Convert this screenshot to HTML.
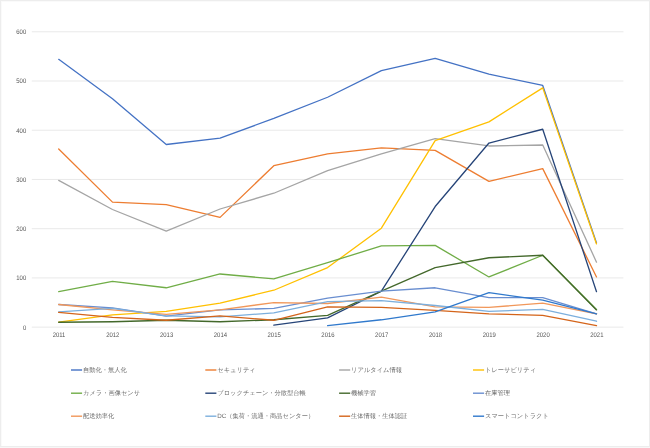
<!DOCTYPE html><html><head><meta charset="utf-8"><style>html,body{margin:0;padding:0;background:#fff;width:650px;height:448px;overflow:hidden}svg{display:block;will-change:transform}text{text-rendering:geometricPrecision}</style></head><body>
<svg width="650" height="448" viewBox="0 0 650 448">
<rect x="0" y="0" width="650" height="448" fill="#fff"/>
<rect x="0" y="0" width="650" height="1" fill="#EDEDED"/><rect x="0" y="0" width="1" height="447" fill="#EDEDED"/><rect x="649" y="0" width="1" height="447" fill="#EDEDED"/><rect x="0" y="446" width="650" height="1" fill="#EDEDED"/><rect x="0" y="447" width="650" height="1" fill="#F7F7F7"/><rect x="1" y="1" width="648" height="1" fill="#FAFAFA"/><rect x="1" y="1" width="1" height="445" fill="#FAFAFA"/>
<line x1="31.80" y1="327.15" x2="623.40" y2="327.15" stroke="#E6E6E6" stroke-width="0.9"/>
<text transform="translate(26.2,329.50) scale(0.2250,0.25)" text-anchor="end" font-family='"Liberation Sans", sans-serif' font-size="26.4" fill="#555555">0</text>
<line x1="31.80" y1="277.92" x2="623.40" y2="277.92" stroke="#E6E6E6" stroke-width="0.9"/>
<text transform="translate(26.2,280.27) scale(0.2250,0.25)" text-anchor="end" font-family='"Liberation Sans", sans-serif' font-size="26.4" fill="#555555">100</text>
<line x1="31.80" y1="228.69" x2="623.40" y2="228.69" stroke="#E6E6E6" stroke-width="0.9"/>
<text transform="translate(26.2,231.04) scale(0.2250,0.25)" text-anchor="end" font-family='"Liberation Sans", sans-serif' font-size="26.4" fill="#555555">200</text>
<line x1="31.80" y1="179.46" x2="623.40" y2="179.46" stroke="#E6E6E6" stroke-width="0.9"/>
<text transform="translate(26.2,181.81) scale(0.2250,0.25)" text-anchor="end" font-family='"Liberation Sans", sans-serif' font-size="26.4" fill="#555555">300</text>
<line x1="31.80" y1="130.23" x2="623.40" y2="130.23" stroke="#E6E6E6" stroke-width="0.9"/>
<text transform="translate(26.2,132.58) scale(0.2250,0.25)" text-anchor="end" font-family='"Liberation Sans", sans-serif' font-size="26.4" fill="#555555">400</text>
<line x1="31.80" y1="81.00" x2="623.40" y2="81.00" stroke="#E6E6E6" stroke-width="0.9"/>
<text transform="translate(26.2,83.35) scale(0.2250,0.25)" text-anchor="end" font-family='"Liberation Sans", sans-serif' font-size="26.4" fill="#555555">500</text>
<line x1="31.80" y1="31.77" x2="623.40" y2="31.77" stroke="#E6E6E6" stroke-width="0.9"/>
<text transform="translate(26.2,34.12) scale(0.2250,0.25)" text-anchor="end" font-family='"Liberation Sans", sans-serif' font-size="26.4" fill="#555555">600</text>
<text transform="translate(59.04,337.35) scale(0.2250,0.25)" text-anchor="middle" font-family='"Liberation Sans", sans-serif' font-size="26.4" fill="#555555">2011</text>
<text transform="translate(112.82,337.35) scale(0.2250,0.25)" text-anchor="middle" font-family='"Liberation Sans", sans-serif' font-size="26.4" fill="#555555">2012</text>
<text transform="translate(166.60,337.35) scale(0.2250,0.25)" text-anchor="middle" font-family='"Liberation Sans", sans-serif' font-size="26.4" fill="#555555">2013</text>
<text transform="translate(220.39,337.35) scale(0.2250,0.25)" text-anchor="middle" font-family='"Liberation Sans", sans-serif' font-size="26.4" fill="#555555">2014</text>
<text transform="translate(274.17,337.35) scale(0.2250,0.25)" text-anchor="middle" font-family='"Liberation Sans", sans-serif' font-size="26.4" fill="#555555">2015</text>
<text transform="translate(327.95,337.35) scale(0.2250,0.25)" text-anchor="middle" font-family='"Liberation Sans", sans-serif' font-size="26.4" fill="#555555">2016</text>
<text transform="translate(381.73,337.35) scale(0.2250,0.25)" text-anchor="middle" font-family='"Liberation Sans", sans-serif' font-size="26.4" fill="#555555">2017</text>
<text transform="translate(435.51,337.35) scale(0.2250,0.25)" text-anchor="middle" font-family='"Liberation Sans", sans-serif' font-size="26.4" fill="#555555">2018</text>
<text transform="translate(489.30,337.35) scale(0.2250,0.25)" text-anchor="middle" font-family='"Liberation Sans", sans-serif' font-size="26.4" fill="#555555">2019</text>
<text transform="translate(543.08,337.35) scale(0.2250,0.25)" text-anchor="middle" font-family='"Liberation Sans", sans-serif' font-size="26.4" fill="#555555">2020</text>
<text transform="translate(596.86,337.35) scale(0.2250,0.25)" text-anchor="middle" font-family='"Liberation Sans", sans-serif' font-size="26.4" fill="#555555">2021</text>
<polyline points="58.69,59.34 112.47,98.72 166.25,144.51 220.04,138.11 273.82,118.41 327.60,97.25 381.38,70.66 435.16,58.35 488.95,74.11 542.73,85.43 596.51,242.97" fill="none" stroke="#4472C4" stroke-width="1.3" stroke-linejoin="round" stroke-linecap="round"/>
<polyline points="58.69,148.94 112.47,202.11 166.25,204.57 220.04,217.37 273.82,165.68 327.60,153.86 381.38,147.95 435.16,150.41 488.95,181.43 542.73,168.63 596.51,276.94" fill="none" stroke="#ED7D31" stroke-width="1.3" stroke-linejoin="round" stroke-linecap="round"/>
<polyline points="58.69,180.44 112.47,209.49 166.25,231.15 220.04,209.00 273.82,193.24 327.60,170.60 381.38,153.86 435.16,138.60 488.95,145.98 542.73,145.00 596.51,262.17" fill="none" stroke="#A5A5A5" stroke-width="1.3" stroke-linejoin="round" stroke-linecap="round"/>
<polyline points="58.69,322.23 112.47,314.84 166.25,311.40 220.04,303.03 273.82,290.23 327.60,267.58 381.38,228.20 435.16,140.57 488.95,121.86 542.73,87.89 596.51,243.95" fill="none" stroke="#FFC000" stroke-width="1.3" stroke-linejoin="round" stroke-linecap="round"/>
<polyline points="58.69,291.70 112.47,281.37 166.25,287.77 220.04,273.98 273.82,278.90 327.60,262.66 381.38,245.92 435.16,245.43 488.95,276.94 542.73,255.27 596.51,309.43" fill="none" stroke="#70AD47" stroke-width="1.3" stroke-linejoin="round" stroke-linecap="round"/>
<polyline points="273.82,325.18 327.60,317.80 381.38,291.21 435.16,206.54 488.95,143.03 542.73,129.25 596.51,291.70" fill="none" stroke="#264478" stroke-width="1.3" stroke-linejoin="round" stroke-linecap="round"/>
<polyline points="58.69,322.23 112.47,321.73 166.25,320.26 220.04,321.73 273.82,319.77 327.60,315.33 381.38,291.21 435.16,267.58 488.95,257.74 542.73,255.27 596.51,309.92" fill="none" stroke="#43682B" stroke-width="1.3" stroke-linejoin="round" stroke-linecap="round"/>
<polyline points="58.69,304.50 112.47,307.95 166.25,316.07 220.04,309.92 273.82,308.44 327.60,298.10 381.38,291.21 435.16,287.77 488.95,297.61 542.73,297.61 596.51,313.86" fill="none" stroke="#698ED0" stroke-width="1.3" stroke-linejoin="round" stroke-linecap="round"/>
<polyline points="58.69,304.50 112.47,309.92 166.25,314.35 220.04,309.92 273.82,302.53 327.60,303.52 381.38,297.12 435.16,306.97 488.95,307.46 542.73,303.03 596.51,313.86" fill="none" stroke="#F1975A" stroke-width="1.3" stroke-linejoin="round" stroke-linecap="round"/>
<polyline points="58.69,311.89 112.47,308.44 166.25,315.83 220.04,316.81 273.82,312.87 327.60,301.55 381.38,300.57 435.16,305.49 488.95,311.40 542.73,309.43 596.51,321.24" fill="none" stroke="#7CAFDD" stroke-width="1.3" stroke-linejoin="round" stroke-linecap="round"/>
<polyline points="58.69,312.38 112.47,317.30 166.25,320.26 220.04,315.83 273.82,320.26 327.60,306.97 381.38,307.46 435.16,310.41 488.95,313.86 542.73,315.33 596.51,325.67" fill="none" stroke="#D4641A" stroke-width="1.3" stroke-linejoin="round" stroke-linecap="round"/>
<polyline points="327.60,325.67 381.38,319.77 435.16,311.89 488.95,292.69 542.73,300.07 596.51,313.86" fill="none" stroke="#3079CC" stroke-width="1.3" stroke-linejoin="round" stroke-linecap="round"/>
<line x1="71.00" y1="370.00" x2="82.10" y2="370.00" stroke="#4472C4" stroke-width="1.4"/>
<text transform="translate(83.00,371.60) scale(0.25)" font-family='"Liberation Sans", sans-serif' font-size="25.0" fill="#6a6a6a">自動化・無人化</text>
<line x1="205.30" y1="370.00" x2="216.40" y2="370.00" stroke="#ED7D31" stroke-width="1.4"/>
<text transform="translate(217.30,371.60) scale(0.25)" font-family='"Liberation Sans", sans-serif' font-size="25.0" fill="#6a6a6a">セキュリティ</text>
<line x1="339.10" y1="370.00" x2="350.20" y2="370.00" stroke="#A5A5A5" stroke-width="1.4"/>
<text transform="translate(351.10,371.60) scale(0.25)" font-family='"Liberation Sans", sans-serif' font-size="25.0" fill="#6a6a6a">リアルタイム情報</text>
<line x1="473.00" y1="370.00" x2="484.10" y2="370.00" stroke="#FFC000" stroke-width="1.4"/>
<text transform="translate(485.00,371.60) scale(0.25)" font-family='"Liberation Sans", sans-serif' font-size="25.0" fill="#6a6a6a">トレーサビリティ</text>
<line x1="71.00" y1="393.20" x2="82.10" y2="393.20" stroke="#70AD47" stroke-width="1.4"/>
<text transform="translate(83.00,394.80) scale(0.25)" font-family='"Liberation Sans", sans-serif' font-size="25.0" fill="#6a6a6a">カメラ・画像センサ</text>
<line x1="205.30" y1="393.20" x2="216.40" y2="393.20" stroke="#264478" stroke-width="1.4"/>
<text transform="translate(217.30,394.80) scale(0.25)" font-family='"Liberation Sans", sans-serif' font-size="25.0" fill="#6a6a6a">ブロックチェーン・分散型台帳</text>
<line x1="339.10" y1="393.20" x2="350.20" y2="393.20" stroke="#43682B" stroke-width="1.4"/>
<text transform="translate(351.10,394.80) scale(0.25)" font-family='"Liberation Sans", sans-serif' font-size="25.0" fill="#6a6a6a">機械学習</text>
<line x1="473.00" y1="393.20" x2="484.10" y2="393.20" stroke="#698ED0" stroke-width="1.4"/>
<text transform="translate(485.00,394.80) scale(0.25)" font-family='"Liberation Sans", sans-serif' font-size="25.0" fill="#6a6a6a">在庫管理</text>
<line x1="71.00" y1="416.20" x2="82.10" y2="416.20" stroke="#F1975A" stroke-width="1.4"/>
<text transform="translate(83.00,417.80) scale(0.25)" font-family='"Liberation Sans", sans-serif' font-size="25.0" fill="#6a6a6a">配送効率化</text>
<line x1="205.30" y1="416.20" x2="216.40" y2="416.20" stroke="#7CAFDD" stroke-width="1.4"/>
<text transform="translate(217.30,417.80) scale(0.25)" font-family='"Liberation Sans", sans-serif' font-size="25.0" fill="#6a6a6a">DC（集荷・流通・商品センター）</text>
<line x1="339.10" y1="416.20" x2="350.20" y2="416.20" stroke="#D4641A" stroke-width="1.4"/>
<text transform="translate(351.10,417.80) scale(0.25)" font-family='"Liberation Sans", sans-serif' font-size="25.0" fill="#6a6a6a">生体情報・生体認証</text>
<line x1="473.00" y1="416.20" x2="484.10" y2="416.20" stroke="#3079CC" stroke-width="1.4"/>
<text transform="translate(485.00,417.80) scale(0.25)" font-family='"Liberation Sans", sans-serif' font-size="25.0" fill="#6a6a6a">スマートコントラクト</text>
</svg></body></html>
